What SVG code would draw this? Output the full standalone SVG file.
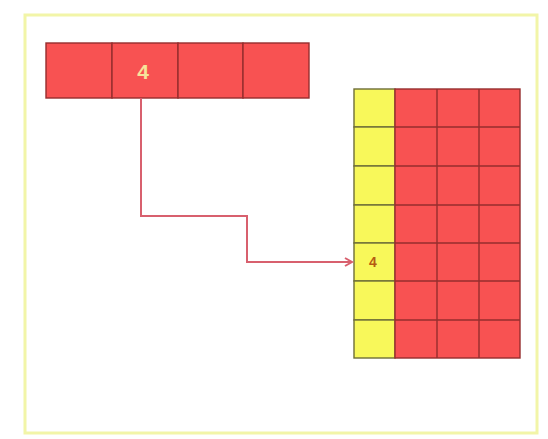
<svg xmlns="http://www.w3.org/2000/svg" width="548" height="439" viewBox="0 0 548 439">
<style>
.red{fill:#f85252;stroke:#962e2e;stroke-width:1.4}
.yel{fill:#f8f85a;stroke:#6e6e38;stroke-width:1.4}
.conn{fill:none;stroke:#d8606e;stroke-width:2}
</style>
<defs>
<marker id="ah" markerWidth="10" markerHeight="10" refX="8" refY="5" orient="auto" markerUnits="userSpaceOnUse">
<path d="M1,1 L8,5 L1,9" fill="none" stroke="#d8606e" stroke-width="2"/>
</marker>
</defs>
<rect x="0" y="0" width="548" height="439" fill="#ffffff"/>
<rect x="25" y="15" width="512" height="418" fill="none" stroke="#f2f5a8" stroke-width="3"/>
<g id="array1d">
<rect class="red" x="46" y="43" width="66" height="55"/>
<rect class="red" x="112" y="43" width="66" height="55"/>
<rect class="red" x="178" y="43" width="65" height="55"/>
<rect class="red" x="243" y="43" width="66" height="55"/>
<text x="143" y="79" font-family="Liberation Sans, sans-serif" font-size="21" font-weight="bold" fill="#f6e49a" text-anchor="middle">4</text>
</g>
<g id="array2d">
<rect class="yel" x="354" y="89" width="41" height="38"/>
<rect class="yel" x="354" y="127" width="41" height="39"/>
<rect class="yel" x="354" y="166" width="41" height="39"/>
<rect class="yel" x="354" y="205" width="41" height="38"/>
<rect class="yel" x="354" y="243" width="41" height="38"/>
<rect class="yel" x="354" y="281" width="41" height="39"/>
<rect class="yel" x="354" y="320" width="41" height="38"/>
<rect x="395" y="89" width="125" height="269" fill="#f85252"/>
<g stroke="#962e2e" stroke-width="1.4" fill="none">
<rect x="395" y="89" width="125" height="269"/>
<line x1="437" y1="89" x2="437" y2="358"/>
<line x1="479" y1="89" x2="479" y2="358"/>
<line x1="395" y1="127" x2="520" y2="127"/>
<line x1="395" y1="166" x2="520" y2="166"/>
<line x1="395" y1="205" x2="520" y2="205"/>
<line x1="395" y1="243" x2="520" y2="243"/>
<line x1="395" y1="281" x2="520" y2="281"/>
<line x1="395" y1="320" x2="520" y2="320"/>
</g>
<text x="373" y="267" font-family="Liberation Sans, sans-serif" font-size="14" font-weight="bold" fill="#b55a12" text-anchor="middle">4</text>
</g>
<g id="connectors">
<path class="conn" d="M141,98 V216 H247 V262 H352" marker-end="url(#ah)"/>
</g>
</svg>
